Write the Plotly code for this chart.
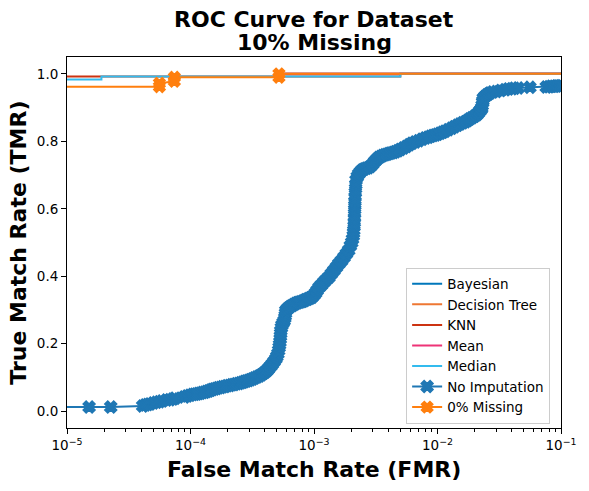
import plotly.graph_objects as go

# ---------------- data ----------------
bayesian_fmr = [5.2e-4, 1.0]
bayesian_tmr = [1.0, 1.0]
dtree_fmr = [5.2e-4, 1.0]
dtree_tmr = [1.0, 1.0]
knn_fmr = [1e-6, 5.0e-3, 5.0e-3, 1.0]
knn_tmr = [0.992, 0.992, 1.0, 1.0]
mean_fmr = [5.2e-4, 1.0]
mean_tmr = [1.0, 1.0]
median_fmr = [1e-6, 1.9e-5, 1.9e-5, 5.0e-3, 5.0e-3, 1.0]
median_tmr = [0.983, 0.983, 0.992, 0.992, 1.0, 1.0]

# No Imputation curve
noimp_fmr = [1e-6, 1.51e-5, 2.26e-5, 4.1e-5, 4.3e-5, 4.5e-5, 4.7e-5, 5.0e-5, 5.3e-5, 5.6e-5,
             5.9e-5, 6.4e-5, 6.8e-5, 7.2e-5, 7.5e-5, 8.9e-5, 9.4e-5, 9.9e-5, 1.04e-4, 1.08e-4,
             1.12e-4, 1.16e-4, 1.2e-4, 1.25e-4, 1.3e-4, 1.35e-4, 1.4e-4, 1.45e-4, 1.5e-4, 1.56e-4,
             1.62e-4, 1.68e-4, 1.75e-4, 1.82e-4, 1.9e-4, 1.98e-4, 2.07e-4, 2.16e-4, 2.25e-4, 2.35e-4,
             2.45e-4, 2.55e-4, 2.65e-4, 2.74e-4, 2.83e-4, 2.94e-4, 3.05e-4, 3.17e-4, 3.3e-4, 3.45e-4,
             3.6e-4, 3.75e-4, 3.9e-4, 4.03e-4, 4.15e-4, 4.25e-4, 4.34e-4, 4.47e-4, 4.6e-4, 4.75e-4,
             4.91e-4, 5.0e-4, 5.1e-4, 5.17e-4, 5.22e-4, 5.26e-4, 5.3e-4, 5.33e-4, 5.35e-4, 5.37e-4,
             5.38e-4, 5.44e-4, 5.5e-4, 5.62e-4, 5.73e-4, 5.8e-4, 5.85e-4, 5.88e-4, 5.91e-4, 6.05e-4,
             6.2e-4, 6.42e-4, 6.65e-4, 6.87e-4, 7.1e-4, 7.33e-4, 7.57e-4, 7.83e-4, 8.1e-4, 8.33e-4,
             8.57e-4, 8.83e-4, 9.1e-4, 9.37e-4, 9.64e-4, 1.0e-3, 1.03e-3, 1.06e-3, 1.1e-3, 1.15e-3,
             1.2e-3, 1.26e-3, 1.32e-3, 1.38e-3, 1.45e-3, 1.52e-3, 1.59e-3, 1.67e-3, 1.75e-3, 1.83e-3,
             1.91e-3, 1.97e-3, 2.02e-3, 2.05e-3, 2.08e-3, 2.09e-3, 2.1e-3, 2.11e-3, 2.12e-3, 2.125e-3,
             2.13e-3, 2.135e-3, 2.14e-3, 2.145e-3, 2.15e-3, 2.16e-3, 2.17e-3, 2.18e-3, 2.19e-3, 2.24e-3,
             2.3e-3, 2.38e-3, 2.46e-3, 2.55e-3, 2.65e-3, 2.75e-3, 2.86e-3, 2.98e-3, 3.1e-3, 3.22e-3,
             3.34e-3, 3.47e-3, 3.6e-3, 3.75e-3, 3.9e-3, 4.05e-3, 4.2e-3, 4.38e-3, 4.56e-3, 4.78e-3,
             5.0e-3, 5.3e-3, 5.6e-3, 5.9e-3, 6.21e-3, 6.6e-3, 7.03e-3, 7.5e-3, 7.96e-3, 8.4e-3,
             8.8e-3, 9.2e-3, 9.59e-3, 1.0e-2, 1.05e-2, 1.1e-2, 1.15e-2, 1.22e-2, 1.3e-2, 1.37e-2,
             1.45e-2, 1.52e-2, 1.6e-2, 1.68e-2, 1.75e-2, 1.82e-2, 1.9e-2, 1.99e-2, 2.08e-2, 2.14e-2,
             2.2e-2, 2.25e-2, 2.28e-2, 2.3e-2, 2.32e-2, 2.33e-2, 2.35e-2, 2.42e-2, 2.5e-2, 2.58e-2,
             2.66e-2, 2.8e-2, 3.0e-2, 3.25e-2, 3.52e-2, 3.75e-2, 4.0e-2, 4.2e-2, 4.5e-2, 5.6e-2,
             7.6e-2, 8.0e-2, 8.36e-2, 8.8e-2, 9.2e-2, 9.6e-2, 1.0e-1, 2.0e-1]
noimp_tmr = [0.012, 0.012, 0.012, 0.015, 0.018, 0.020, 0.021, 0.024, 0.026, 0.028,
             0.030, 0.033, 0.034, 0.036, 0.038, 0.042, 0.045, 0.047, 0.049, 0.050,
             0.051, 0.052, 0.053, 0.055, 0.056, 0.058, 0.060, 0.062, 0.064, 0.066,
             0.067, 0.069, 0.070, 0.072, 0.073, 0.075, 0.076, 0.078, 0.079, 0.081,
             0.082, 0.084, 0.086, 0.088, 0.089, 0.091, 0.093, 0.095, 0.098, 0.101,
             0.104, 0.108, 0.112, 0.116, 0.120, 0.124, 0.129, 0.134, 0.140, 0.147,
             0.155, 0.162, 0.170, 0.180, 0.189, 0.197, 0.205, 0.214, 0.222, 0.230,
             0.238, 0.247, 0.255, 0.262, 0.268, 0.276, 0.283, 0.290, 0.298, 0.302,
             0.306, 0.310, 0.313, 0.316, 0.319, 0.321, 0.323, 0.324, 0.326, 0.328,
             0.330, 0.332, 0.334, 0.336, 0.338, 0.344, 0.350, 0.358, 0.367, 0.374,
             0.382, 0.390, 0.397, 0.407, 0.417, 0.427, 0.437, 0.446, 0.456, 0.467,
             0.477, 0.490, 0.500, 0.510, 0.520, 0.528, 0.536, 0.548, 0.560, 0.573,
             0.586, 0.598, 0.610, 0.622, 0.635, 0.648, 0.660, 0.672, 0.685, 0.695,
             0.703, 0.710, 0.715, 0.718, 0.720, 0.722, 0.725, 0.732, 0.740, 0.746,
             0.752, 0.755, 0.758, 0.760, 0.762, 0.764, 0.765, 0.767, 0.769, 0.772,
             0.776, 0.780, 0.785, 0.790, 0.794, 0.798, 0.802, 0.806, 0.810, 0.812,
             0.815, 0.817, 0.819, 0.821, 0.824, 0.827, 0.830, 0.834, 0.839, 0.843,
             0.848, 0.851, 0.855, 0.858, 0.862, 0.866, 0.870, 0.874, 0.879, 0.884,
             0.890, 0.894, 0.899, 0.906, 0.915, 0.920, 0.928, 0.933, 0.937, 0.940,
             0.943, 0.946, 0.948, 0.951, 0.953, 0.955, 0.956, 0.957, 0.958, 0.960,
             0.961, 0.962, 0.963, 0.963, 0.964, 0.964, 0.965, 0.970]

# 0% Missing curve
zero_fmr = [1e-6, 5.6e-5, 5.6e-5, 7.4e-5, 7.4e-5, 5.2e-4, 5.2e-4, 2.0e-1]
zero_tmr = [0.962, 0.962, 0.972, 0.978, 0.990, 0.990, 1.0, 1.0]

y_ticks = [0.0, 0.2, 0.4, 0.6, 0.8, 1.0]
x_ticks = [1e-5, 1e-4, 1e-3, 1e-2, 1e-1]
x_tick_labels = ["10<sup>\u22125</sup>", "10<sup>\u22124</sup>", "10<sup>\u22123</sup>",
                 "10<sup>\u22122</sup>", "10<sup>\u22121</sup>"]

FONT = "DejaVu Sans"

fig = go.Figure()

def add_line(x, y, name, color):
    fig.add_trace(go.Scatter(x=x, y=y, mode="lines", name=name,
                             line=dict(color=color, width=2)))

add_line(bayesian_fmr, bayesian_tmr, "Bayesian", "#0077BB")
add_line(dtree_fmr, dtree_tmr, "Decision Tree", "#EE7733")
add_line(knn_fmr, knn_tmr, "KNN", "#CC3311")
add_line(mean_fmr, mean_tmr, "Mean", "#EE3377")
add_line(median_fmr, median_tmr, "Median", "#33BBEE")

fig.add_trace(go.Scatter(x=noimp_fmr, y=noimp_tmr, mode="lines+markers", name="No Imputation",
                         line=dict(color="#1f77b4", width=2),
                         marker=dict(symbol="x", size=10.5, color="#1f77b4",
                                     line=dict(width=1.5, color="#1f77b4"))))
fig.add_trace(go.Scatter(x=zero_fmr, y=zero_tmr, mode="lines+markers", name="0% Missing",
                         line=dict(color="#ff7f0e", width=2),
                         marker=dict(symbol="x", size=10, color="#ff7f0e",
                                     line=dict(width=1.5, color="#ff7f0e"))))

fig.update_layout(
    width=589, height=491,
    margin=dict(l=67, r=26, t=57, b=63),
    paper_bgcolor="white", plot_bgcolor="white",
    font=dict(family=FONT, size=13.5, color="black"),
    showlegend=True,
    legend=dict(x=0.978, y=0.012, xanchor="right", yanchor="bottom",
                bgcolor="rgba(255,255,255,0.8)", bordercolor="#cccccc", borderwidth=1,
                font=dict(family=FONT, size=13.5), tracegroupgap=0),
    annotations=[
        dict(text="<b>ROC Curve for Dataset</b>", x=0.5, y=1 + 38 / 371, xref="paper", yref="paper",
             showarrow=False, font=dict(family=FONT, size=22), xanchor="center", yanchor="middle"),
        dict(text="<b>10% Missing</b>", x=0.5, y=1 + 15 / 371, xref="paper", yref="paper",
             showarrow=False, font=dict(family=FONT, size=22), xanchor="center", yanchor="middle"),
        dict(text="<b>False Match Rate (FMR)</b>", x=0.5, y=1 - 412 / 371, xref="paper", yref="paper",
             showarrow=False, font=dict(family=FONT, size=22), xanchor="center", yanchor="middle"),
        dict(text="<b>True Match Rate (TMR)</b>", x=(18 - 67) / 496, y=0.5, xref="paper", yref="paper",
             showarrow=False, textangle=-90, font=dict(family=FONT, size=22),
             xanchor="center", yanchor="middle"),
    ],
)

fig.update_xaxes(type="log", range=[-5, -1], tickvals=x_ticks, ticktext=x_tick_labels,
                 showline=True, linecolor="black", linewidth=1, mirror=True,
                 ticks="outside", ticklen=5, tickcolor="black", showgrid=False, zeroline=False,
                 minor=dict(ticks="outside", ticklen=2.5, tickcolor="black", dtick="D1", showgrid=False),
                 tickfont=dict(family=FONT, size=13.5))
fig.update_yaxes(range=[-0.05, 1.05], tickvals=y_ticks, tickformat=".1f",
                 showline=True, linecolor="black", linewidth=1, mirror=True,
                 ticks="outside", ticklen=5, tickcolor="black", showgrid=False, zeroline=False,
                 tickfont=dict(family=FONT, size=13.5))

fig.write_html("out.html", config={"displayModeBar": False},
               post_script="document.body.style.margin='0px';")
